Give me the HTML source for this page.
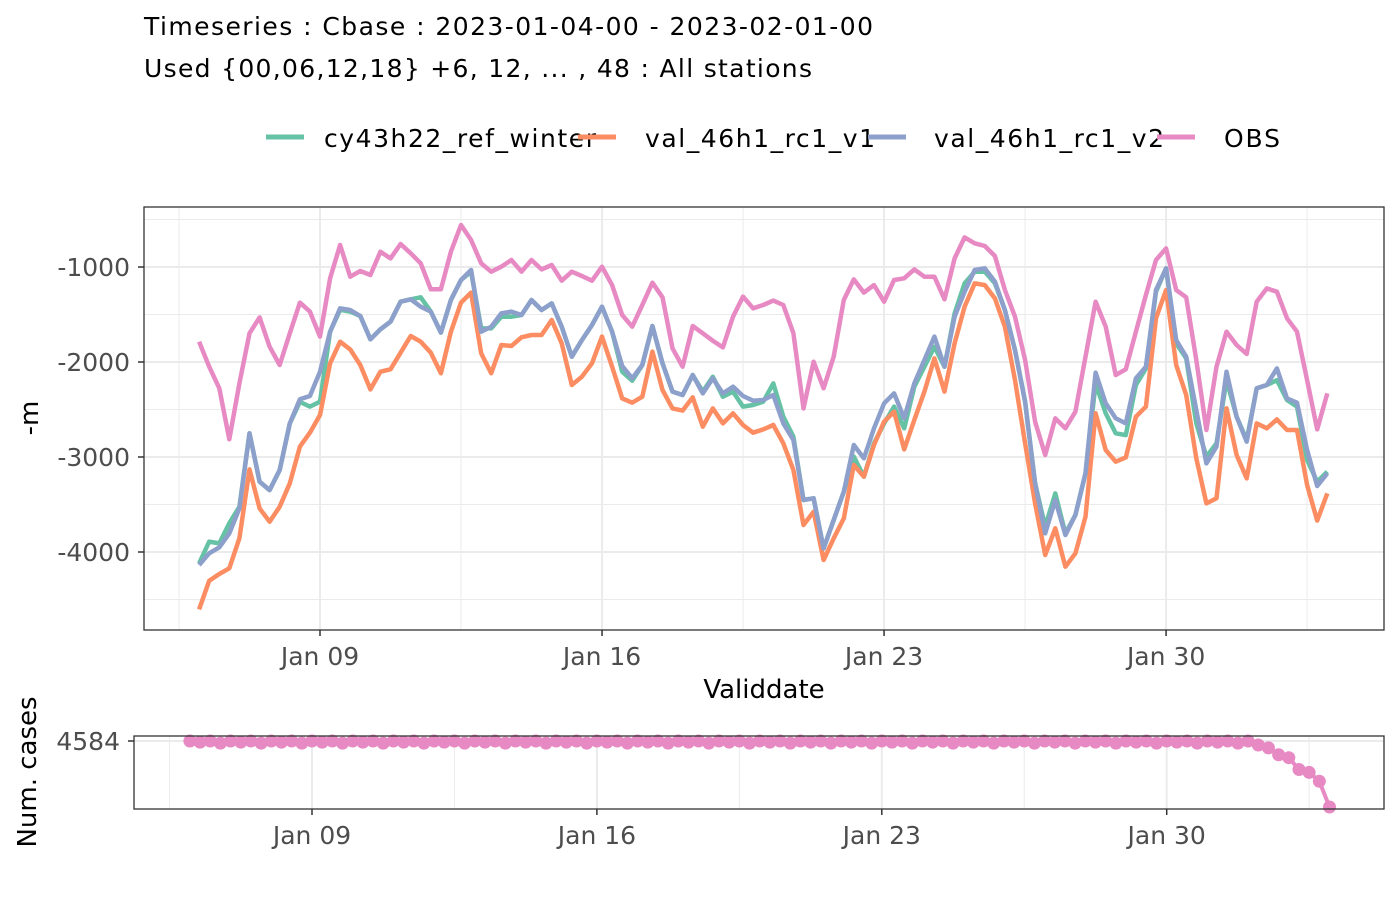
<!DOCTYPE html>
<html><head><meta charset="utf-8"><style>
html,body{margin:0;padding:0;background:#fff;}
svg{display:block;font-family:"DejaVu Sans","Liberation Sans",sans-serif;}
</style></head><body>
<svg id="chart" width="1400" height="900" viewBox="0 0 1400 900">
<text x="144" y="35" font-size="25" textLength="729">Timeseries : Cbase : 2023-01-04-00 - 2023-02-01-00</text>
<text x="144" y="77" font-size="25" textLength="668">Used {00,06,12,18} +6, 12, ... , 48 : All stations</text>
<g id="legend"></g>
<g id="topPanel"></g>
<g id="bottomPanel"></g>
</svg>
<script>
const seriesNames = ["cy43h22_ref_winter","val_46h1_rc1_v1","val_46h1_rc1_v2","OBS"];
const seriesColors = ["#66c2a5","#fc8d62","#8da0cb","#e78ac3"];
const startDay = 6; // Jan 6 00 UTC, 6-hourly steps
const stepDays = 0.25;
const yTicks = [-1000,-2000,-3000,-4000];
const yTickLabels = ["-1000","-2000","-3000","-4000"];
const xTickDays = [9,16,23,30];
const xTickLabels = ["Jan 09","Jan 16","Jan 23","Jan 30"];
const obs = [-1786,-2049,-2277,-2814,-2225,-1698,-1530,-1839,-2032,-1698,-1375,-1470,-1733,-1119,-768,-1102,-1042,-1084,-839,-909,-758,-856,-961,-1235,-1235,-839,-558,-716,-961,
-1049,-997,-926,-1049,-926,-1025,-979,-1144,-1049,-1095,-1144,-997,-1190,-1505,-1628,-1400,-1165,-1319,-1856,-2049,-1621,-1698,-1776,-1846,-1523,-1312,-1435,-1400,
-1354,-1400,-1698,-2488,-1997,-2277,-1944,-1347,-1130,-1270,-1190,-1365,-1137,-1119,-1025,-1102,-1102,-1340,-909,-688,-751,-779,-884,-1242,-1523,-1979,-2628,-2979,-2593,
-2698,-2523,-1944,-1365,-1628,-2137,-2077,-1681,-1295,-926,-804,-1242,-1319,-1979,-2716,-2049,-1681,-1821,-1916,-1365,-1225,-1260,-1540,-1681,-2190,-2709,-2330];
const v2 = [-4137,-4014,-3951,-3804,-3541,-2751,-3260,-3348,-3137,-2646,-2393,-2358,-2102,-1681,-1435,-1453,-1516,-1761,-1656,-1576,-1365,-1340,-1418,-1470,-1691,-1347,-1137,-1032,-1681,
-1628,-1488,-1470,-1505,-1347,-1453,-1383,-1628,-1944,-1769,-1611,-1418,-1681,-2042,-2172,-2032,-1621,-2014,-2312,-2347,-2137,-2330,-2172,-2330,-2260,-2358,-2407,-2400,
-2347,-2646,-2821,-3453,-3435,-3962,-3663,-3365,-2874,-3014,-2698,-2435,-2330,-2593,-2225,-1979,-1733,-2049,-1523,-1260,-1032,-1014,-1154,-1453,-1874,-2418,-3277,-3804,-3453,
-3821,-3611,-3172,-2112,-2435,-2593,-2646,-2172,-2049,-1242,-1014,-1769,-1944,-2505,-3067,-2891,-2102,-2576,-2839,-2277,-2242,-2067,-2383,-2428,-2926,-3305,-3172];
const ref = [-4120,-3891,-3909,-3698,-3523,-2751,-3260,-3348,-3137,-2646,-2420,-2470,-2418,-1681,-1450,-1470,-1516,-1761,-1656,-1576,-1365,-1340,-1319,-1470,-1691,-1347,-1137,-1050,-1646,
-1646,-1523,-1523,-1505,-1347,-1453,-1383,-1628,-1944,-1769,-1611,-1418,-1681,-2102,-2197,-2032,-1621,-2014,-2312,-2347,-2137,-2312,-2155,-2365,-2312,-2470,-2453,-2418,
-2225,-2576,-2786,-3453,-3435,-3962,-3663,-3365,-2997,-3207,-2856,-2646,-2470,-2698,-2260,-2049,-1839,-2049,-1488,-1172,-1049,-1049,-1172,-1453,-1874,-2418,-3277,-3734,-3383,
-3804,-3611,-3172,-2225,-2540,-2751,-2769,-2242,-2067,-1260,-1014,-1804,-1962,-2646,-2997,-2856,-2190,-2576,-2821,-2277,-2242,-2190,-2400,-2470,-3032,-3260,-3155];
const v1 = [-4604,-4302,-4232,-4172,-3856,-3130,-3541,-3681,-3523,-3277,-2891,-2744,-2558,-2014,-1786,-1867,-2032,-2288,-2102,-2077,-1902,-1726,-1786,-1902,-2119,-1681,-1375,-1270,-1909,
-2119,-1821,-1832,-1740,-1716,-1716,-1558,-1804,-2242,-2155,-2014,-1733,-2049,-2383,-2428,-2365,-1891,-2295,-2488,-2512,-2372,-2681,-2488,-2646,-2540,-2663,-2744,-2709,
-2663,-2856,-3137,-3716,-3576,-4084,-3856,-3646,-3084,-3207,-2874,-2628,-2523,-2920,-2611,-2312,-1962,-2312,-1804,-1418,-1172,-1190,-1330,-1628,-2190,-2856,-3488,-4032,-3751,
-4155,-4014,-3628,-2540,-2926,-3049,-3004,-2576,-2470,-1540,-1242,-2032,-2347,-3014,-3488,-3435,-2488,-2979,-3225,-2646,-2698,-2604,-2716,-2716,-3295,-3670,-3383];
const cases = [4584,4560,4584,4540,4584,4560,4584,4540,4584,4560,4584,4540,4584,4560,4584,4540,4584,4560,4584,4540,4584,4560,4584,4540,4584,4560,4584,4540,4584,4560,
4584,4540,4584,4560,4584,4540,4584,4560,4584,4540,4584,4560,4584,4540,4584,4560,4584,4540,4584,4560,4584,4540,4584,4560,4584,4540,4584,4560,4584,4540,
4584,4560,4584,4540,4584,4560,4584,4540,4584,4560,4584,4540,4584,4560,4584,4540,4584,4560,4584,4540,4584,4560,4584,4540,4584,4560,4584,4540,4584,4560,
4584,4540,4584,4560,4584,4540,4584,4560,4584,4540,4584,4560,4584,4540,4584,4500,4440,4296,4234,3987,3925,3740,3200];
const caseTicks = [4584];
const allSeries = [ref, v1, v2, obs];

const NS = "http://www.w3.org/2000/svg";
function mk(tag, attrs, parent){const e=document.createElementNS(NS,tag);for(const k in attrs)e.setAttribute(k,attrs[k]);parent.appendChild(e);return e;}
const times = obs.map((_, i) => startDay + i*stepDays);

const T = {l:144,r:1384,t:207,b:630};
const xTop = d => 320 + (d-9)*40.29;
const yTop = v => 267 + (-1000 - v)*0.095;
const B = {l:134,r:1384,t:736,b:809};
const xBot = d => 312 + (d-9)*40.7;
const yBot = v => 741 + (4584 - v)*(66/1384);

const topG = document.getElementById('topPanel');
mk('rect',{x:T.l,y:T.t,width:T.r-T.l,height:T.b-T.t,fill:'#fff'},topG);
[-500,-1500,-2500,-3500,-4500].forEach(v=>{const l=mk('line',{x1:T.l,x2:T.r,y1:yTop(v),y2:yTop(v),stroke:'#ebebeb','stroke-width':1},topG);

});
[5.5,12.5,19.5,26.5,33.5].forEach(d=>{const l=mk('line',{x1:xTop(d),x2:xTop(d),y1:T.t,y2:T.b,stroke:'#ebebeb','stroke-width':1},topG);

});
yTicks.forEach((v,i)=>{const l=mk('line',{x1:T.l,x2:T.r,y1:yTop(v),y2:yTop(v),stroke:'#ebebeb','stroke-width':2},topG);


mk('line',{x1:T.l-6,x2:T.l,y1:yTop(v),y2:yTop(v),stroke:'#333','stroke-width':1.5},topG);
const t=mk('text',{x:T.l-14,y:yTop(v)+9,'text-anchor':'end','font-size':25,fill:'#4d4d4d'},topG);t.textContent=yTickLabels[i];

});
xTickDays.forEach((d,i)=>{const l=mk('line',{x1:xTop(d),x2:xTop(d),y1:T.t,y2:T.b,stroke:'#ebebeb','stroke-width':2},topG);


mk('line',{x1:xTop(d),x2:xTop(d),y1:T.b,y2:T.b+6,stroke:'#333','stroke-width':1.5},topG);
const t=mk('text',{x:xTop(d),y:T.b+35,'text-anchor':'middle','font-size':25,fill:'#4d4d4d'},topG);t.textContent=xTickLabels[i];

});
allSeries.forEach((s,k)=>{const p=mk('polyline',{points:s.map((v,i)=>xTop(times[i]).toFixed(1)+','+yTop(v).toFixed(1)).join(' '),fill:'none',stroke:seriesColors[k],'stroke-width':4.5,'stroke-linejoin':'round'},topG);

});
mk('rect',{x:T.l,y:T.t,width:T.r-T.l,height:T.b-T.t,fill:'none',stroke:'#333','stroke-width':1.3},topG);
const xt=mk('text',{x:764,y:698,'text-anchor':'middle','font-size':26},topG);xt.textContent='Validdate';


const yt=mk('text',{x:0,y:0,'text-anchor':'middle','font-size':26,transform:'translate(38,418) rotate(-90)'},topG);yt.textContent='-m';



const leg = document.getElementById('legend');
const legKeyX = [266,578,868,1157];
const legTextX = [324,645,934,1224];
const legTextW = [272,230,230,56];
seriesNames.forEach((n,k)=>{mk('line',{x1:legKeyX[k],x2:legKeyX[k]+38,y1:137,y2:137,stroke:seriesColors[k],'stroke-width':5},leg);
const t=mk('text',{x:legTextX[k],y:147,'font-size':25,textLength:legTextW[k]},leg);t.textContent=n;

});

const botG = document.getElementById('bottomPanel');
[5.5,12.5,19.5,26.5,33.5].forEach(d=>{const l=mk('line',{x1:xBot(d),x2:xBot(d),y1:B.t,y2:B.b,stroke:'#ebebeb','stroke-width':1},botG);

});
xTickDays.forEach((d,i)=>{const l=mk('line',{x1:xBot(d),x2:xBot(d),y1:B.t,y2:B.b,stroke:'#ebebeb','stroke-width':2},botG);


mk('line',{x1:xBot(d),x2:xBot(d),y1:B.b,y2:B.b+6,stroke:'#333','stroke-width':1.5},botG);
const t=mk('text',{x:xBot(d),y:B.b+35,'text-anchor':'middle','font-size':25,fill:'#4d4d4d'},botG);t.textContent=xTickLabels[i];

});
caseTicks.forEach(v=>{const l=mk('line',{x1:B.l,x2:B.r,y1:yBot(v),y2:yBot(v),stroke:'#ebebeb','stroke-width':2},botG);


mk('line',{x1:B.l-6,x2:B.l,y1:yBot(v),y2:yBot(v),stroke:'#333','stroke-width':1.5},botG);
const t=mk('text',{x:B.l-14,y:yBot(v)+9,'text-anchor':'end','font-size':25,fill:'#4d4d4d'},botG);t.textContent=String(v);

});
const cl=mk('polyline',{points:cases.map((v,i)=>xBot(times[i]).toFixed(1)+','+yBot(v).toFixed(1)).join(' '),fill:'none',stroke:'#e78ac3','stroke-width':4},botG);


cases.forEach((v,i)=>{const c=mk('circle',{cx:xBot(times[i]),cy:yBot(v),r:6.5,fill:'#e78ac3'},botG);

});
mk('rect',{x:B.l,y:B.t,width:B.r-B.l,height:B.b-B.t,fill:'none',stroke:'#333','stroke-width':1.3},botG);
const bt=mk('text',{x:0,y:0,'text-anchor':'middle','font-size':26,transform:'translate(36,772) rotate(-90)'},botG);bt.textContent='Num. cases';


</script>
</body></html>
